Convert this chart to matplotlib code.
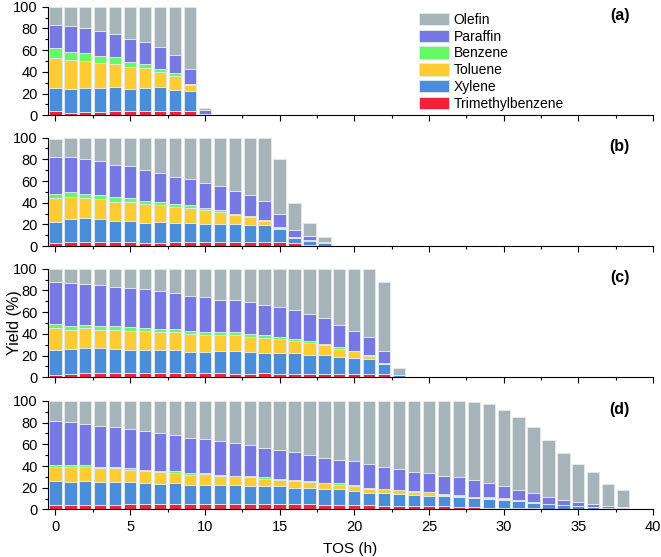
import numpy as np
import matplotlib
matplotlib.use("Agg")
import matplotlib.pyplot as plt
from matplotlib.ticker import MultipleLocator

plt.rcParams['font.family'] = ['Liberation Sans', 'DejaVu Sans']

names = ['Olefin', 'Paraffin', 'Benzene', 'Toluene', 'Xylene', 'Trimethylbenzene']
colors = ['#a6b4b9', '#7878e4', '#66f966', '#ffcc33', '#4a8edb', '#f2213a']

# cumulative tops: TMB, Xylene, Toluene, Benzene, Paraffin, Total
# panel (a)
a_tmb = [4, 2.5, 3, 3, 3.5, 3.5, 3.5, 4, 3.5, 3.5, 0.3]
a_xyl = [25.5, 24.5, 25, 25, 26, 24.5, 25.5, 26, 23, 22, 1]
a_tol = [53, 51, 50, 48, 47.5, 44.5, 43.5, 40, 36, 27.5, 1]
a_ben = [62, 58.5, 57.5, 54.5, 53.5, 49.5, 47.5, 43, 38.5, 28.5, 1]
a_par = [83, 82.5, 80.5, 77.5, 75, 70, 67.5, 62.5, 55.5, 42.5, 4.5]
a_tot = [100, 100, 100, 100, 100, 100, 100, 100, 100, 100, 7]

# panel (b)
b_tmb = [2.5, 3.5, 3.5, 4, 3.5, 3.5, 3, 3, 3.5, 3.5, 3.5, 3.5, 3.5, 3.5, 4, 4, 2.5, 1, 0.5]
b_xyl = [22.5, 25, 25.5, 25, 23, 23, 21, 22, 21.5, 21.5, 20.5, 20.5, 20.5, 19.5, 19.5, 15.5, 8, 5, 2.5]
b_tol = [44, 45, 44, 43.5, 41, 41, 38.5, 37.5, 36, 35, 33, 31.5, 28.5, 26.5, 23.5, 17, 8.2, 5.2, 2.5]
b_ben = [48.5, 49.5, 48, 47.5, 45, 44.5, 42, 41, 38.5, 37.5, 35, 33, 30, 27.5, 24, 18, 8.4, 5.4, 2.5]
b_par = [82, 82, 80, 78, 75, 73.5, 70, 67, 64, 61.5, 58, 55, 51, 47, 42, 30, 15, 9, 3.5]
b_tot = [99, 100, 100, 100, 100, 100, 100, 100, 100, 100, 100, 100, 100, 100, 99.5, 80, 40, 21.5, 8.5]

# panel (c)
c_tmb = [2.5, 3.5, 4, 4, 4, 4, 4, 4, 4, 4, 4, 4, 3.5, 3.5, 4, 3.5, 3.5, 3.5, 3.5, 3.5, 3.5, 3.5, 3, 0]
c_xyl = [25.5, 26, 27, 27, 26.5, 25.5, 25.5, 25, 25, 23.5, 23.5, 24, 24, 23, 22.5, 22.5, 22, 21,
         20.5, 19, 17.5, 16.5, 12, 2]
c_tol = [45.5, 44, 45, 44, 44, 43, 42.5, 42, 41.5, 40, 39, 39, 39, 37.5, 36.5, 35, 33.5, 32,
         30, 26.5, 24, 20, 13, 2]
c_ben = [49, 47.5, 48, 47.5, 47, 46, 45.5, 44.5, 44.5, 42.5, 42, 42, 42, 40, 38.5, 37, 35.5, 33,
         31, 27.5, 24.5, 21, 13.5, 2]
c_par = [87.5, 86.5, 86, 85, 83.5, 82, 81, 79.5, 77.5, 75, 74, 71.5, 71.5, 69.5, 66.5, 65, 62, 58,
         54.5, 48.5, 43, 37.5, 24, 2.5]
c_tot = [100] * 22 + [87.5, 8.5]

# panel (d)
d_tmb = [4, 4.5, 4.5, 4.5, 4.5, 5, 5, 5, 5, 5, 5, 5, 5, 5, 5, 5, 5, 5, 4.5, 4.5,
         3.7, 3.7, 3.5, 3.5, 3.3, 3.2, 3, 2.6, 2, 1.5, 1.3, 1.2, 1, 0.8, 0.6, 0.5, 0.4, 0.3, 0.3]
d_xyl = [26, 25.5, 26, 25.5, 25.5, 25, 24, 23.5, 24, 23, 23, 22.5, 22.5, 22, 21.5, 21.5, 20, 20, 19, 18.5,
         17, 15.5, 15, 14.6, 13, 12.7, 12, 11.5, 11, 9.6, 8.7, 7.5, 6.2, 5, 4, 2.8, 2, 1.5, 1.5]
d_tol = [39.5, 39.5, 39.5, 38, 38, 36.5, 35.5, 34.5, 34, 32, 32.5, 31, 30.5, 30, 28.5, 27.5, 26.5, 25.5, 24, 23,
         21.7, 19.3, 18.6, 18, 16.5, 15.8, 13.7, 12.7, 11.5, 10.9, 10, 8.4, 6.8, 5.2, 4.1, 2.9, 2.1, 1.6, 1.6]
d_ben = [41, 40.5, 40.5, 39, 39, 38, 36.5, 35.5, 35, 33.5, 33.5, 32, 31, 31, 29.5, 28.5, 27.5, 26, 24.5, 24,
         22.4, 19.8, 19, 18.4, 16.8, 16.1, 14, 13, 11.8, 11.2, 10.3, 8.6, 7, 5.3, 4.2, 3, 2.2, 1.7, 1.7]
d_par = [81.5, 81, 78.5, 77, 75.5, 74.5, 72.5, 70, 68.5, 66, 65, 63, 61, 59, 57, 54.5, 52.5, 50, 47.5, 45.5,
         44.7, 42, 38.8, 37, 34.5, 33.5, 31, 29.5, 27.6, 24.8, 21.7, 18, 15, 11.5, 8.7, 6.5, 5, 3.4, 2.5]
d_tot = [100] * 28 + [99, 97, 92, 85.4, 75.5, 64, 52, 42.2, 34.5, 23.6, 17.7]

panels = [
    ('(a)', [a_tmb, a_xyl, a_tol, a_ben, a_par, a_tot]),
    ('(b)', [b_tmb, b_xyl, b_tol, b_ben, b_par, b_tot]),
    ('(c)', [c_tmb, c_xyl, c_tol, c_ben, c_par, c_tot]),
    ('(d)', [d_tmb, d_xyl, d_tol, d_ben, d_par, d_tot]),
]

fig = plt.figure(figsize=(6.61, 5.57), dpi=100)
left, width, height = 0.0726, 0.9154, 0.195
bottoms = [0.793, 0.558, 0.3226, 0.0853]

for i, (tag, cum) in enumerate(panels):
    ax = fig.add_axes([left, bottoms[i], width, height])
    cum = [np.array(c, dtype=float) for c in cum]
    x = np.arange(len(cum[0]))
    # layers from bottom: TMB, Xylene, Toluene, Benzene, Paraffin, Olefin
    layer_cols = colors[::-1]
    layer_names = names[::-1]
    prev = np.zeros(len(x))
    handles = []
    for k in range(6):
        h = cum[k] - prev
        b = ax.bar(x, h, bottom=prev, width=0.82, color=layer_cols[k],
                   edgecolor='#e4eaec', linewidth=0.6, label=layer_names[k])
        handles.append(b)
        prev = cum[k]
    ax.set_xlim(-0.5, 40)
    ax.set_ylim(0, 100)
    ax.spines['top'].set_visible(False)
    ax.spines['right'].set_visible(False)
    ax.xaxis.set_major_locator(MultipleLocator(5))
    ax.xaxis.set_minor_locator(MultipleLocator(2.5))
    ax.yaxis.set_major_locator(MultipleLocator(20))
    ax.yaxis.set_minor_locator(MultipleLocator(10))
    ax.tick_params(which='major', direction='out', length=4, width=0.8, labelsize=10.5)
    ax.tick_params(which='minor', direction='out', length=2.5, width=0.8)
    if i < 3:
        ax.tick_params(axis='x', labelbottom=False)
    ax.text(0.945, 0.92, tag, transform=ax.transAxes, fontsize=11.5, fontweight='bold',
            ha='center', va='center')
    if i == 0:
        ax.legend(handles[::-1], names, loc='upper left', bbox_to_anchor=(0.6, 1.02),
                  frameon=False, fontsize=10, handlelength=2.15, handleheight=1.0,
                  labelspacing=0.2, handletextpad=0.3, borderaxespad=0.2)
    if i == 3:
        ax.set_xlabel('TOS (h)', fontsize=11, labelpad=6)

fig.text(0.022, 0.42, 'Yield (%)', rotation=90, fontsize=11.5, ha='center', va='center')

fig.savefig('out.png', dpi=100)
